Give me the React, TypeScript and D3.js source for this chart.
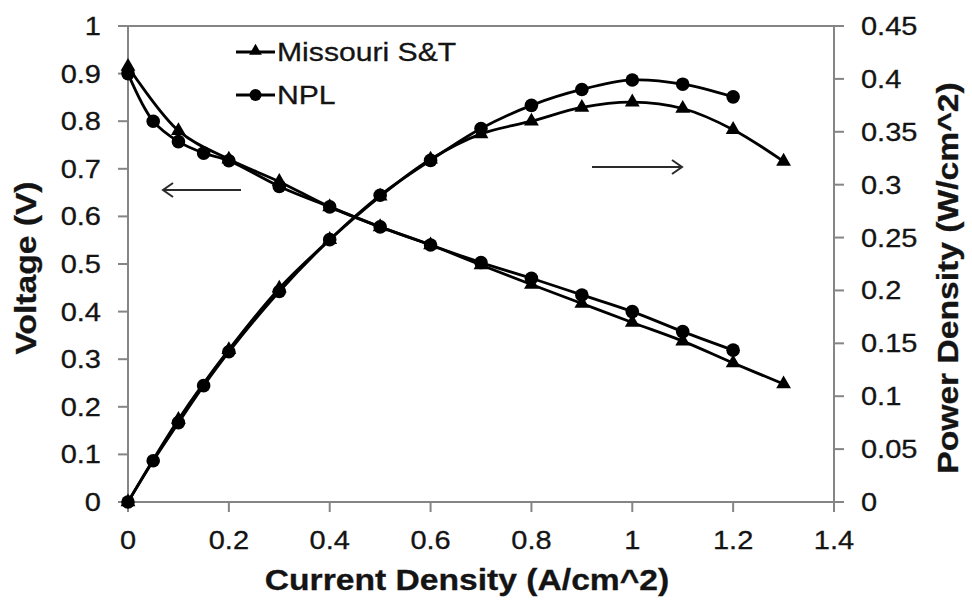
import React from "react";
import * as d3 from "d3";

// ---- data ----
const currentMST = [0, 0.1, 0.2, 0.3, 0.4, 0.5, 0.6, 0.7, 0.8, 0.9, 1.0, 1.1, 1.2, 1.3];
const voltageMST = [0.915, 0.78, 0.72, 0.673, 0.62, 0.578, 0.54, 0.498, 0.457, 0.417, 0.377, 0.338, 0.292, 0.248];
const powerMST = [0, 0.078, 0.144, 0.202, 0.248, 0.289, 0.324, 0.348, 0.36, 0.373, 0.378, 0.372, 0.352, 0.322];

const currentNPL = [0, 0.05, 0.1, 0.15, 0.2, 0.3, 0.4, 0.5, 0.6, 0.7, 0.8, 0.9, 1.0, 1.1, 1.2];
const voltageNPL = [0.9, 0.8, 0.757, 0.733, 0.717, 0.663, 0.62, 0.578, 0.54, 0.503, 0.47, 0.435, 0.4, 0.358, 0.319];
const powerNPL = [0, 0.039, 0.075, 0.11, 0.142, 0.199, 0.248, 0.29, 0.323, 0.353, 0.375, 0.39, 0.399, 0.395, 0.383];

const xTicks = [0, 0.2, 0.4, 0.6, 0.8, 1, 1.2, 1.4];
const yLeftTicks = [0, 0.1, 0.2, 0.3, 0.4, 0.5, 0.6, 0.7, 0.8, 0.9, 1];
const yRightTicks = [0, 0.05, 0.1, 0.15, 0.2, 0.25, 0.3, 0.35, 0.4, 0.45];

const seriesNames = ["Missouri S&T", "NPL"];

const W = 972;
const H = 603;
const L = 128, R = 834, T = 26, B = 502;
const FONT = "'Liberation Sans', Arial, Helvetica, sans-serif";
const STRETCH = 1.16;
const AXIS = "#858585";
const INK = "#141414";

const x = d3.scaleLinear().domain([0, 1.4]).range([L, R]);
const yV = d3.scaleLinear().domain([0, 1]).range([B, T]);
const yP = d3.scaleLinear().domain([0, 0.45]).range([B, T]);

function Txt(props: { x: number; y: number; text: string; size: number; anchor?: string; weight?: string; rot?: number }) {
  const { x: tx, y: ty, text, size, anchor = "start", weight = "normal", rot = 0 } = props;
  return (
    <text
      transform={`translate(${tx},${ty}) rotate(${rot}) scale(${STRETCH},1)`}
      fontFamily={FONT}
      fontSize={size}
      fontWeight={weight}
      textAnchor={anchor}
      fill={INK}
      stroke={INK}
      strokeWidth={0.3}
    >
      {text}
    </text>
  );
}

const tri = d3.symbol().type(d3.symbolTriangle).size(95)() as string;

function Series(props: { xs: number[]; ys: number[]; y: d3.ScaleLinear<number, number>; marker: "tri" | "circ" }) {
  const { xs, ys, y, marker } = props;
  const pts: [number, number][] = xs.map((c, i) => [x(c), y(ys[i])]);
  const line = d3.line().curve(d3.curveCatmullRom.alpha(0.5))(pts) as string;
  return (
    <g>
      <path d={line} fill="none" stroke="#000" strokeWidth={2.8} />
      {pts.map(([px, py], i) =>
        marker === "circ" ? (
          <circle key={i} cx={px} cy={py} r={6.8} fill="#000" />
        ) : (
          <path key={i} d={tri} transform={`translate(${px},${py})`} fill="#000" />
        )
      )}
    </g>
  );
}

export default function App() {
  const fmt = (v: number) => String(+v.toFixed(2));
  return (
    <svg width={W} height={H} style={{ position: "absolute", left: 0, top: 0, background: "#fff" }}>
      <rect x={0} y={0} width={W} height={H} fill="#fff" />
      {/* frame / axes */}
      <g stroke={AXIS} strokeWidth={2} fill="none">
        <line x1={L} y1={T} x2={R} y2={T} />
        <line x1={L} y1={T} x2={L} y2={B} />
        <line x1={R} y1={T} x2={R} y2={B} />
        <line x1={L} y1={B} x2={R} y2={B} />
        {xTicks.map((t) => (
          <line key={"xt" + t} x1={x(t)} y1={B} x2={x(t)} y2={B + 10} />
        ))}
        {yLeftTicks.map((t) => (
          <line key={"yl" + t} x1={L - 10} y1={yV(t)} x2={L} y2={yV(t)} />
        ))}
        {yRightTicks.map((t) => (
          <line key={"yr" + t} x1={R} y1={yP(t)} x2={R + 10} y2={yP(t)} />
        ))}
      </g>
      {/* tick labels */}
      {xTicks.map((t) => (
        <Txt key={"xl" + t} x={x(t)} y={549} text={fmt(t)} size={25} anchor="middle" />
      ))}
      {yLeftTicks.map((t) => (
        <Txt key={"yll" + t} x={101} y={yV(t) + 9} text={fmt(t)} size={25} anchor="end" />
      ))}
      {yRightTicks.map((t) => (
        <Txt key={"yrl" + t} x={861} y={yP(t) + 9} text={fmt(t)} size={25} anchor="start" />
      ))}
      {/* axis titles */}
      <Txt x={467} y={590} text="Current Density (A/cm^2)" size={29} weight="bold" anchor="middle" />
      <Txt x={36} y={268} text="Voltage (V)" size={29} weight="bold" anchor="middle" rot={-90} />
      <Txt x={958} y={278} text="Power Density (W/cm^2)" size={29} weight="bold" anchor="middle" rot={-90} />

      {/* series */}
      <Series xs={currentMST} ys={voltageMST} y={yV} marker="tri" />
      <Series xs={currentNPL} ys={voltageNPL} y={yV} marker="circ" />
      <Series xs={currentMST} ys={powerMST} y={yP} marker="tri" />
      <Series xs={currentNPL} ys={powerNPL} y={yP} marker="circ" />

      {/* arrows */}
      <g stroke="#2a2a2a" strokeWidth={2} fill="none">
        <line x1={163} y1={190} x2={241} y2={190} />
        <polyline points="173,183 163,190 173,197" />
        <line x1={592} y1={167} x2={682} y2={167} />
        <polyline points="672,160 682,167 672,174" />
      </g>

      {/* legend */}
      <g>
        <line x1={236} y1={52} x2={275} y2={52} stroke="#000" strokeWidth={2.8} />
        <path d={d3.symbol().type(d3.symbolTriangle).size(70)() as string} transform="translate(255.5,51)" fill="#000" />
        <Txt x={277} y={61} text={seriesNames[0]} size={26} />
        <line x1={236} y1={95} x2={275} y2={95} stroke="#000" strokeWidth={2.8} />
        <circle cx={255.5} cy={95} r={6} fill="#000" />
        <Txt x={277} y={104} text={seriesNames[1]} size={26} />
      </g>
    </svg>
  );
}
